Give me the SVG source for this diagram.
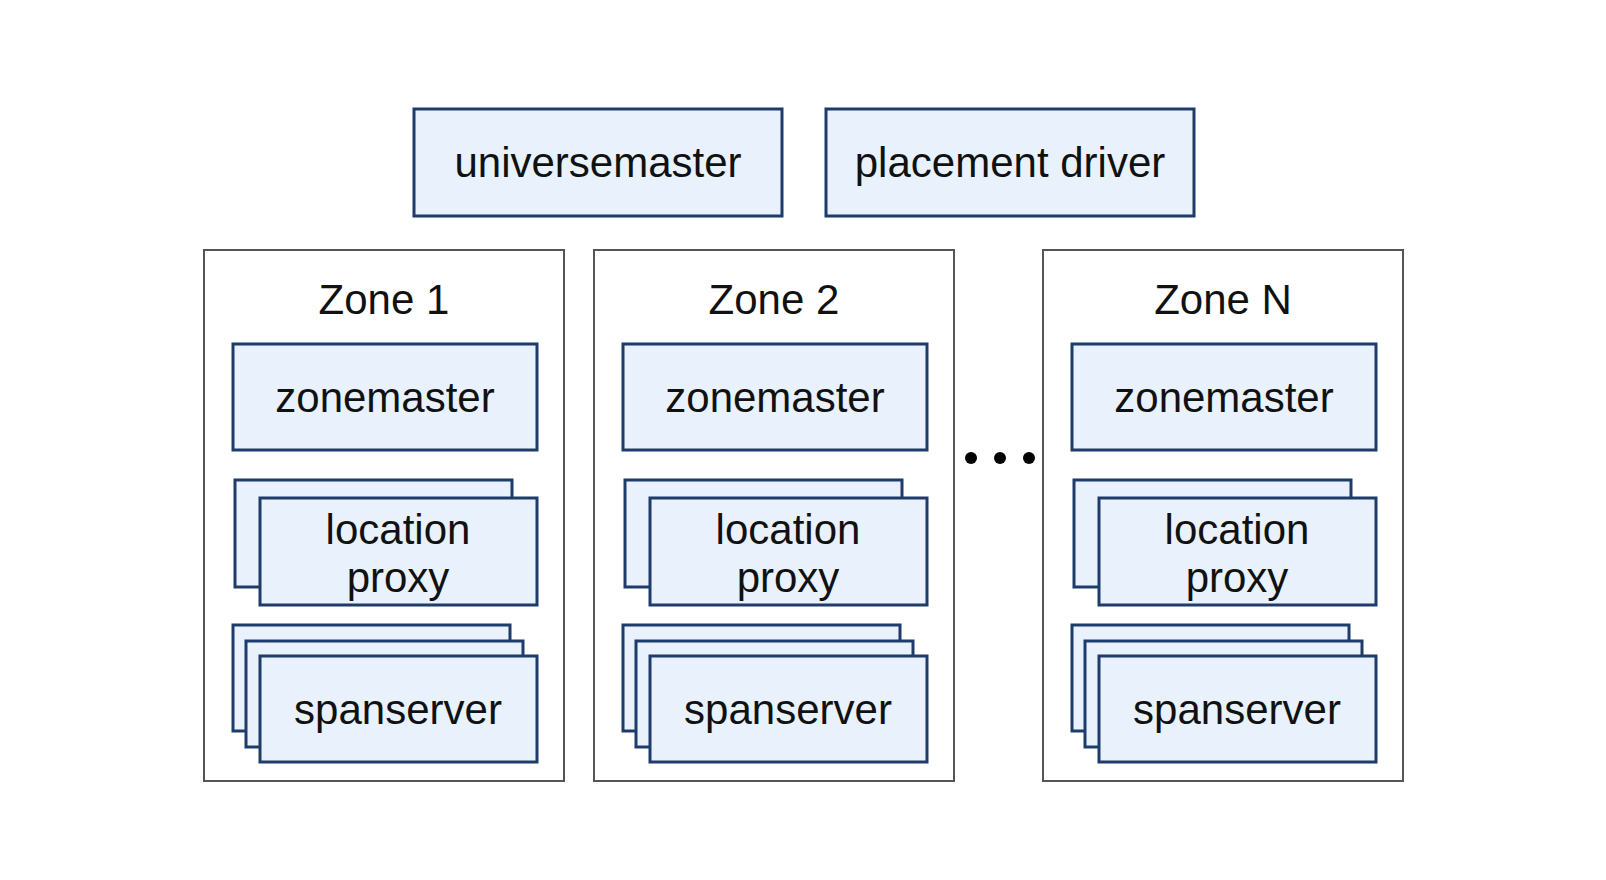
<svg xmlns="http://www.w3.org/2000/svg" width="1606" height="880" viewBox="0 0 1606 880">
<style>
.b{fill:#e8f1fc;stroke:#1e3c6a;stroke-width:3}
.z{fill:#fff;stroke:#555;stroke-width:2}
text{font-family:"Liberation Sans",Arial,sans-serif;font-size:42px;fill:#111;text-anchor:middle}
</style>
<defs>
<g id="zone">
<rect class="z" x="204" y="250" width="360" height="531"/>
<rect class="b" x="233" y="344" width="304" height="106"/>
<text x="385" y="412">zonemaster</text>
<rect class="b" x="235" y="480" width="277" height="107"/>
<rect class="b" x="260" y="498" width="277" height="107"/>
<text x="398" y="544">location</text>
<text x="398" y="592">proxy</text>
<rect class="b" x="233" y="625" width="277" height="106"/>
<rect class="b" x="246" y="641" width="277" height="106"/>
<rect class="b" x="260" y="656" width="277" height="106"/>
<text x="398" y="724">spanserver</text>
</g>
</defs>
<rect width="1606" height="880" fill="#fff"/>
<g id="universemaster"><rect class="b" x="414" y="109" width="368" height="107"/><text x="598" y="177">universemaster</text></g>
<g id="placementdriver"><rect class="b" x="826" y="109" width="368" height="107"/><text x="1010" y="177">placement driver</text></g>
<g id="zone1"><use href="#zone"/><text x="384" y="314">Zone 1</text></g>
<g id="zone2"><use href="#zone" x="390"/><text x="774" y="314">Zone 2</text></g>
<g id="zoneN"><use href="#zone" x="839"/><text x="1223" y="314">Zone N</text></g>
<g id="dots" fill="#000"><circle cx="971" cy="458" r="6"/><circle cx="1000" cy="458" r="6"/><circle cx="1029" cy="458" r="6"/></g>
<g id="connectors"/>
</svg>
